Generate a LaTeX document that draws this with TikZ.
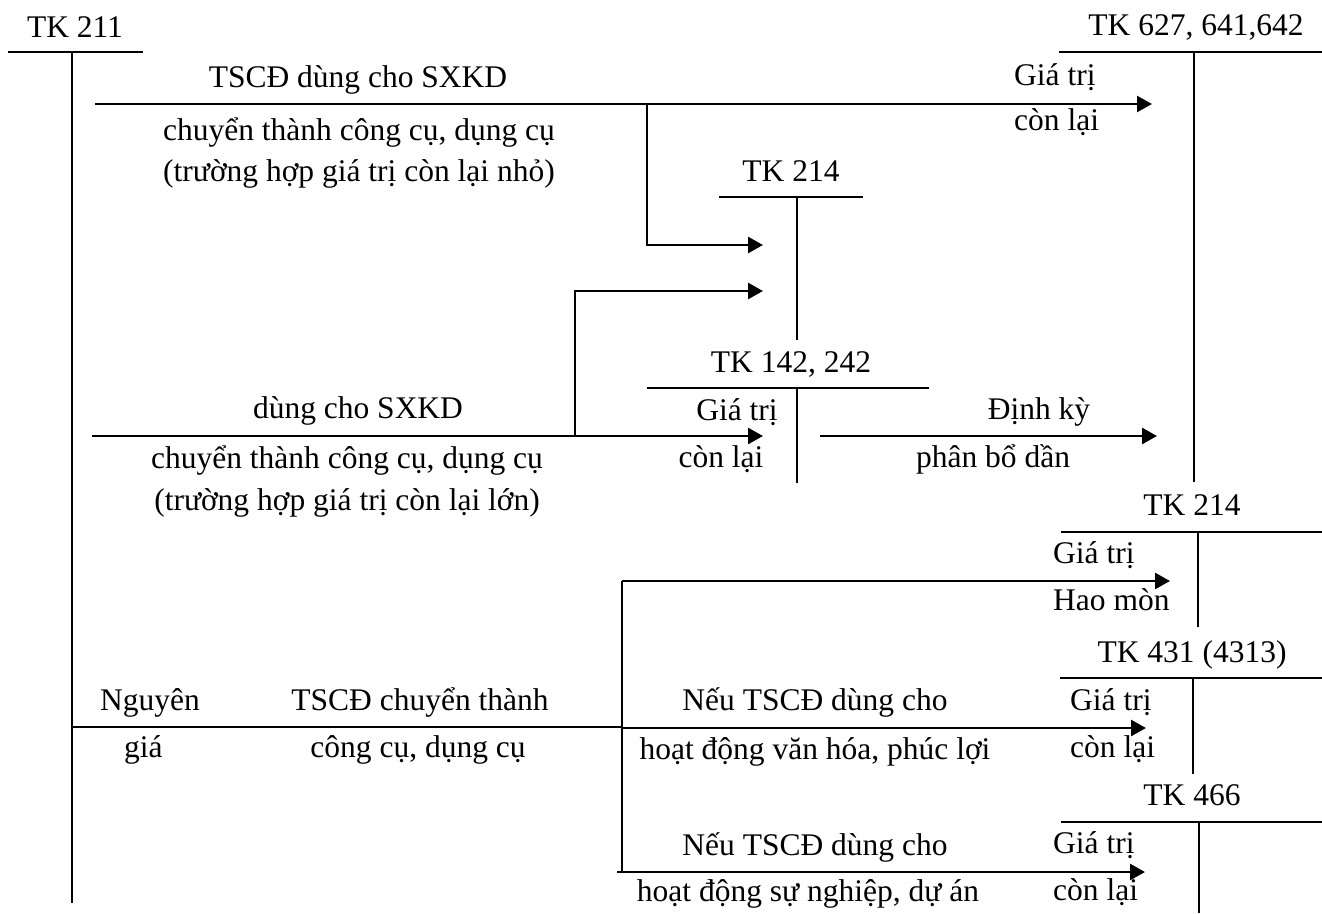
\documentclass[tikz,border=0pt]{standalone}
\usepackage{fontspec}
\setmainfont{Liberation Serif}
\usetikzlibrary{arrows.meta}
\begin{document}
\begin{tikzpicture}[x=1pt,y=-1pt,
  ln/.style={line width=2.6pt},
  arr/.style={line width=2.6pt,-{Triangle[length=15pt,width=16pt]}},
  lbl/.style={anchor=base,inner sep=0pt,font=\fontsize{31.5}{36}\selectfont},
  lbll/.style={lbl,anchor=base west}]
\useasboundingbox (0,0) rectangle (1322,913);

% ---------- T-accounts ----------
% TK 211
\node[lbl] (t211) at (75,37) {TK 211};
\coordinate (t211l) at (8,52);   \coordinate (t211r) at (143,52);
\coordinate (t211t) at (72,52);  \coordinate (t211b) at (72,903);
\draw[ln] (t211l) -- (t211r) (t211t) -- (t211b);

% TK 627, 641, 642
\node[lbl] (t627) at (1196,35) {TK 627, 641,642};
\coordinate (t627l) at (1059,52); \coordinate (t627r) at (1322,52);
\coordinate (t627t) at (1194,52); \coordinate (t627b) at (1194,482);
\draw[ln] (t627l) -- (t627r) (t627t) -- (t627b);

% TK 214 (upper)
\node[lbl] (t214a) at (791,181) {TK 214};
\coordinate (t214al) at (719,197); \coordinate (t214ar) at (863,197);
\coordinate (t214at) at (797,197); \coordinate (t214ab) at (797,340);
\draw[ln] (t214al) -- (t214ar) (t214at) -- (t214ab);

% TK 142, 242
\node[lbl] (t142) at (791,372) {TK 142, 242};
\coordinate (t142l) at (647,388); \coordinate (t142r) at (929,388);
\coordinate (t142t) at (797,388); \coordinate (t142b) at (797,483);
\draw[ln] (t142l) -- (t142r) (t142t) -- (t142b);

% TK 214 (lower)
\node[lbl] (t214b) at (1192,515) {TK 214};
\coordinate (t214bl) at (1061,532); \coordinate (t214br) at (1322,532);
\coordinate (t214bt) at (1198,532); \coordinate (t214bb) at (1198,627);
\draw[ln] (t214bl) -- (t214br) (t214bt) -- (t214bb);

% TK 431 (4313)
\node[lbl] (t431) at (1192,662) {TK 431 (4313)};
\coordinate (t431l) at (1060,678); \coordinate (t431r) at (1322,678);
\coordinate (t431t) at (1193,678); \coordinate (t431b) at (1193,774);
\draw[ln] (t431l) -- (t431r) (t431t) -- (t431b);

% TK 466
\node[lbl] (t466) at (1192,805) {TK 466};
\coordinate (t466l) at (1061,822); \coordinate (t466r) at (1322,822);
\coordinate (t466t) at (1199,822); \coordinate (t466b) at (1199,913);
\draw[ln] (t466l) -- (t466r) (t466t) -- (t466b);

% ---------- small residual value: straight to expenses ----------
\coordinate (a1s) at (95,104);   \coordinate (a1e) at (1152,104);
\draw[arr] (a1s) -- (a1e);
\node[lbl] (a1u) at (358,87)  {TSCĐ dùng cho SXKD};
\node[lbl] (a1d) at (359,140) {chuyển thành công cụ, dụng cụ};
\node[lbl] (a1n) at (359,181) {(trường hợp giá trị còn lại nhỏ)};
\node[lbll] (a1gu) at (1014,85)  {Giá trị};
\node[lbll] (a1gd) at (1014,130) {còn lại};

% accumulated depreciation branch of the small case
\coordinate (b1t) at (647,104); \coordinate (b1c) at (647,245);
\coordinate (b1e) at (763,245);
\draw[arr] (b1t) -- (b1c) -- (b1e);

% ---------- large residual value: via TK 142, 242 ----------
\coordinate (a3s) at (92,436);  \coordinate (a3e) at (763,436);
\draw[arr] (a3s) -- (a3e);
\node[lbl] (a3u) at (358,418) {dùng cho SXKD};
\node[lbl] (a3d) at (347,468) {chuyển thành công cụ, dụng cụ};
\node[lbl] (a3n) at (347,510) {(trường hợp giá trị còn lại lớn)};
\node[lbl] (a3gu) at (737,420) {Giá trị};
\node[lbl] (a3gd) at (721,467) {còn lại};

% accumulated depreciation branch of the large case
\coordinate (b2b) at (575,436); \coordinate (b2c) at (575,291);
\coordinate (b2e) at (763,291);
\draw[arr] (b2b) -- (b2c) -- (b2e);

% periodic allocation
\coordinate (a4s) at (820,436); \coordinate (a4e) at (1157,436);
\draw[arr] (a4s) -- (a4e);
\node[lbl] (a4u) at (1039,419) {Định kỳ};
\node[lbl] (a4d) at (993,467)  {phân bổ dần};

% ---------- non-business use ----------
\coordinate (ngs) at (72,727);  \coordinate (nge) at (622,727);
\draw[ln] (ngs) -- (nge);
\node[lbll] (ngu) at (100,710) {Nguyên};
\node[lbll] (ngd) at (124,757) {giá};
\node[lbl] (tsu) at (420,710) {TSCĐ chuyển thành};
\node[lbl] (tsd) at (418,757) {công cụ, dụng cụ};

\coordinate (vt) at (622,581); \coordinate (vb) at (622,872);
\draw[ln] (vt) -- (vb);

\coordinate (a5e) at (1170,581);
\draw[arr] (vt) -- (a5e);
\node[lbll] (a5u) at (1053,563) {Giá trị};
\node[lbll] (a5d) at (1053,610) {Hao mòn};

\coordinate (a6s) at (622,728); \coordinate (a6e) at (1146,728);
\draw[arr] (a6s) -- (a6e);
\node[lbl] (a6u) at (815,710) {Nếu TSCĐ dùng cho};
\node[lbl] (a6d) at (815,759) {hoạt động văn hóa, phúc lợi};
\node[lbll] (a6gu) at (1070,710) {Giá trị};
\node[lbll] (a6gd) at (1070,757) {còn lại};

\coordinate (a7s) at (617,872); \coordinate (a7e) at (1145,872);
\draw[arr] (a7s) -- (a7e);
\node[lbl] (a7u) at (815,855) {Nếu TSCĐ dùng cho};
\node[lbl] (a7d) at (808,901) {hoạt động sự nghiệp, dự án};
\node[lbll] (a7gu) at (1053,853) {Giá trị};
\node[lbll] (a7gd) at (1053,900) {còn lại};
\end{tikzpicture}
\end{document}
